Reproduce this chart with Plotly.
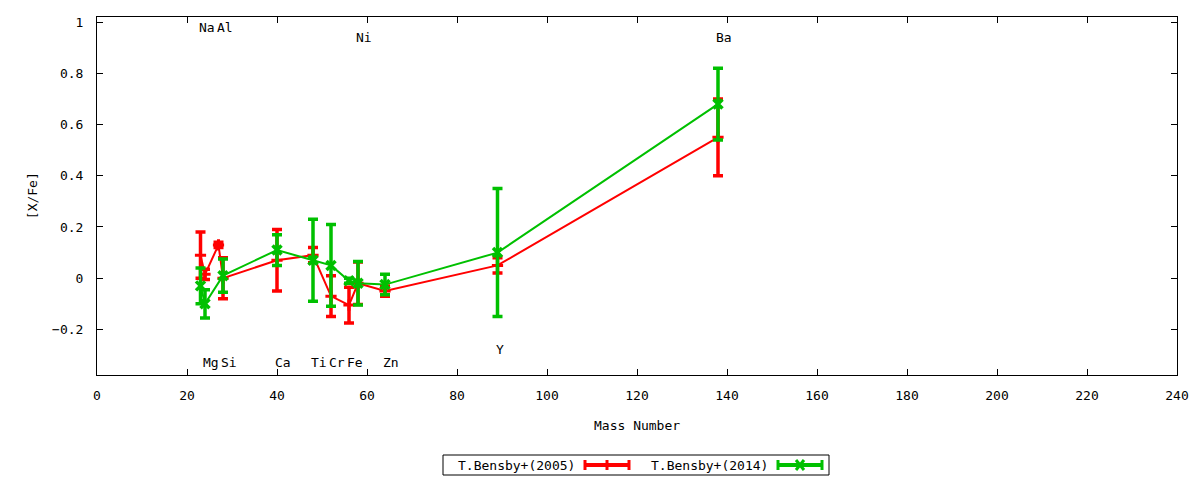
import plotly.graph_objects as go

# T.Bensby+(2005)
mass_05 = [23, 24, 27, 28, 40, 48, 52, 56, 58, 64, 89, 138]
xfe_05 = [0.09, 0.015, 0.13, 0.0, 0.07, 0.09, -0.07, -0.105, -0.02, -0.05, 0.05, 0.55]
err_05 = [0.09, 0.02, 0.01, 0.08, 0.12, 0.03, 0.08, 0.07, 0.083, 0.02, 0.03, 0.15]

# T.Bensby+(2014)
mass_14 = [23, 24, 28, 40, 48, 52, 56, 58, 64, 89, 138]
xfe_14 = [-0.03, -0.10, 0.01, 0.11, 0.07, 0.05, -0.01, -0.02, -0.025, 0.10, 0.68]
err_14 = [0.07, 0.055, 0.065, 0.06, 0.16, 0.16, 0.01, 0.085, 0.04, 0.25, 0.14]

# element labels
el_names = ["Na", "Al", "Ni", "Ba", "Mg", "Si", "Ca", "Ti", "Cr", "Fe", "Zn", "Y"]
el_mass = [23, 27, 58, 138, 24, 28, 40, 48, 52, 56, 64, 89]
el_ypos = [0.98, 0.98, 0.94, 0.94, -0.33, -0.33, -0.33, -0.33, -0.33, -0.33, -0.33, -0.28]

RED = "#ff0000"
GREEN = "#00c000"
FONT = "DejaVu Sans Mono"

fig = go.Figure()
fig.add_trace(go.Scatter(
    x=mass_05, y=xfe_05, mode="lines+markers", name="T.Bensby+(2005)",
    line=dict(color=RED, width=2),
    marker=dict(symbol="cross-thin-open", size=8, line=dict(color=RED, width=3)),
    error_y=dict(type="data", array=err_05, color=RED, thickness=3.5, width=5),
))
fig.add_trace(go.Scatter(
    x=mass_14, y=xfe_14, mode="lines+markers", name="T.Bensby+(2014)",
    line=dict(color=GREEN, width=2),
    marker=dict(symbol="x-thin-open", size=9, line=dict(color=GREEN, width=3.5)),
    error_y=dict(type="data", array=err_14, color=GREEN, thickness=3.5, width=5),
))

for name, m, yv in zip(el_names, el_mass, el_ypos):
    fig.add_annotation(x=m, y=yv, xref="x", yref="y", text=name, showarrow=False,
                       xanchor="left", yanchor="middle", xshift=-4,
                       font=dict(family=FONT, size=13, color="black"))

# axis titles
fig.add_annotation(x=-0.06, y=0.5, xref="paper", yref="paper", text="[X/Fe]",
                   showarrow=False, textangle=-90, xanchor="center", yanchor="middle",
                   font=dict(family=FONT, size=13))
fig.add_annotation(x=0.5, y=-0.14, xref="paper", yref="paper", text="Mass Number",
                   showarrow=False, xanchor="center", yanchor="middle",
                   font=dict(family=FONT, size=13))

# hand-made legend below the plot (text first, then sample)
W, H = 1080.0, 358.0
def px(x):
    return (x - 97) / W
def py(y):
    return (375 - y) / H

fig.add_shape(type="rect", xref="paper", yref="paper",
              x0=px(443), x1=px(829), y0=py(475), y1=py(455),
              line=dict(color="black", width=1))
legend_items = [("T.Bensby+(2005)", RED, 458, 585, 629, "plus"),
                ("T.Bensby+(2014)", GREEN, 651, 778, 822, "x")]
for label, col, tx, lx0, lx1, kind in legend_items:
    fig.add_annotation(x=px(tx), y=py(465), xref="paper", yref="paper", text=label,
                       showarrow=False, xanchor="left", yanchor="middle", xshift=-2,
                       font=dict(family=FONT, size=13))
    fig.add_shape(type="line", xref="paper", yref="paper", x0=px(lx0), x1=px(lx1),
                  y0=py(465), y1=py(465), line=dict(color=col, width=4))
    for cx in (lx0, lx1):
        fig.add_shape(type="line", xref="paper", yref="paper", x0=px(cx), x1=px(cx),
                      y0=py(460), y1=py(470), line=dict(color=col, width=3))
    mid = (lx0 + lx1) / 2
    if kind == "plus":
        fig.add_shape(type="line", xref="paper", yref="paper", x0=px(mid), x1=px(mid),
                      y0=py(460), y1=py(470), line=dict(color=col, width=3))
    else:
        fig.add_shape(type="line", xref="paper", yref="paper", x0=px(mid - 4), x1=px(mid + 4),
                      y0=py(460), y1=py(470), line=dict(color=col, width=3))
        fig.add_shape(type="line", xref="paper", yref="paper", x0=px(mid - 4), x1=px(mid + 4),
                      y0=py(470), y1=py(460), line=dict(color=col, width=3))

axis_common = dict(showline=True, linecolor="black", linewidth=1, mirror="ticks",
                   ticks="inside", ticklen=6, tickcolor="black", showgrid=False,
                   zeroline=False, tickfont=dict(family=FONT, size=13, color="black"))
fig.update_xaxes(range=[0, 240], dtick=20, tick0=0, ticklabelstandoff=8, **axis_common)
fig.update_yaxes(range=[-0.378, 1.02], dtick=0.2, tick0=0, ticklabelstandoff=10,
                 **axis_common)

fig.update_layout(
    width=1200, height=480,
    margin=dict(l=97, r=23, t=17, b=105),
    paper_bgcolor="white", plot_bgcolor="white",
    showlegend=False,
    font=dict(family=FONT, size=13, color="black"),
)

# drop the page's default body margin so the figure sits at the window corner
fig.write_html("out.html", config={"displayModeBar": False},
               post_script="document.body.style.margin='0';")
